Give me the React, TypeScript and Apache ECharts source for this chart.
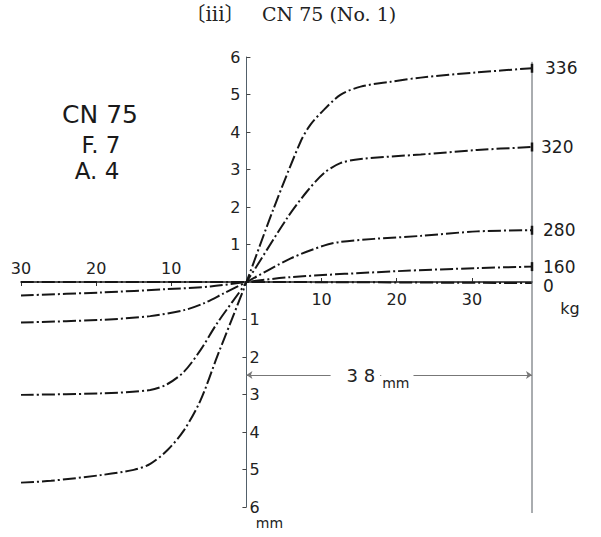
import React, { useEffect, useRef } from 'react';
import * as echarts from 'echarts';

// Load–deflection curves, CN 75 (No. 1). x: load in kg, y: deflection in mm.
const curveNames = ['336', '320', '280', '160', '0'];

const curve336: [number, number][] = [
  [-30, -5.35], [-26, -5.3], [-19.4, -5.15], [-15, -5.01], [-12.8, -4.85], [-10.5, -4.48],
  [-8.3, -3.95], [-6.1, -3.15], [-3.9, -1.99], [0, 0], [3.6, 1.95], [7.2, 3.74], [8.5, 4.19],
  [10.3, 4.59], [12.5, 4.99], [15.2, 5.21], [19.2, 5.34], [23.2, 5.45], [30.7, 5.59], [38, 5.7],
];
const curve320: [number, number][] = [
  [-30, -3.01], [-19.4, -2.97], [-12.8, -2.88], [-10.5, -2.72], [-8.3, -2.39], [-6.1, -1.81],
  [-3.9, -1.1], [0, 0], [5.4, 1.7], [8, 2.4], [10.3, 2.9], [12.5, 3.17], [15.2, 3.28],
  [23.2, 3.4], [30.7, 3.52], [38, 3.6],
];
const curve280: [number, number][] = [
  [-30, -1.08], [-19.4, -1.01], [-12.8, -0.91], [-8.3, -0.75], [-5.7, -0.57], [-3, -0.3],
  [0, 0], [5.9, 0.63], [10.3, 0.97], [12.5, 1.07], [17, 1.15], [23.2, 1.23], [30.7, 1.35], [38, 1.38],
];
const curve160: [number, number][] = [
  [-30, -0.36], [-19.4, -0.28], [-10.5, -0.19], [-4.8, -0.12], [0, 0], [5.9, 0.13],
  [20.2, 0.29], [30.7, 0.37], [38, 0.41],
];
const curve0: [number, number][] = [[-30, 0], [0, 0], [38, -0.03]];

const curves = [curve336, curve320, curve280, curve160, curve0];

const xTicksLeft = [-30, -20, -10];
const xTicksRight = [10, 20, 30];
const yTicksUp = [1, 2, 3, 4, 5, 6];
const yTicksDown = [-1, -2, -3, -4, -5, -6];

const xMin = -30;
const xMax = 38;
const yMin = -6;
const yMax = 6;

// end post of the measuring frame and the 38 mm span marked below the axis
const postTop = 5.87;
const postBottom = -6.16;
const spanLevel = -2.48;

// plot box
const plotLeft = 21;
const plotTop = 57;
const plotWidth = 511;
const plotHeight = 450;

const SANS = "'DejaVu Sans', sans-serif";
const SERIF = "'DejaVu Serif', 'Noto Sans CJK JP', serif";
const INK = '#161616';
const dashDot = [13, 3, 2, 3];

const labelDistance: Record<string, number> = { '336': 13, '320': 9, '280': 11, '160': 11, '0': 11 };
const labelOffsetY: Record<string, number> = { '336': 0, '320': 0, '280': 0, '160': 0, '0': 3 };

function curveSeries(name: string, pts: [number, number][]) {
  const withTick = name !== '0';
  return {
    type: 'line',
    name,
    xAxisIndex: 0,
    yAxisIndex: 0,
    data: pts.map((p, i) =>
      i === pts.length - 1 && withTick
        ? { value: p, symbol: 'rect', symbolSize: [2.5, 9] }
        : { value: p }
    ),
    symbol: 'none',
    showSymbol: true,
    smooth: 0.3,
    silent: true,
    z: 3,
    itemStyle: { color: INK },
    lineStyle: { color: INK, width: 2, type: dashDot },
    endLabel: {
      show: true,
      formatter: name,
      distance: labelDistance[name],
      offset: [0, labelOffsetY[name]],
      color: '#1c1c1c',
      fontSize: 17,
      fontFamily: SANS,
    },
  };
}

export default function App() {
  const ref = useRef<HTMLDivElement>(null);

  useEffect(() => {
    document.body.style.margin = '0';
    if (!ref.current) return;
    const chart = echarts.init(ref.current, null, { renderer: 'svg' });

    const tickLabel = { fontSize: 16, color: '#222', fontFamily: SANS };
    // where x = 0 and y = 0 fall inside the plot box
    const originX = plotLeft + ((0 - xMin) / (xMax - xMin)) * plotWidth;
    const originY = plotTop + ((yMax - 0) / (yMax - yMin)) * plotHeight;

    const noGrid = { containLabel: false, outerBoundsMode: 'none' };

    const option: any = {
      animation: false,
      backgroundColor: '#fff',
      grid: [
        // full plot carrying the curves
        { ...noGrid, left: plotLeft, top: plotTop, width: plotWidth, height: plotHeight },
        // upper-right quadrant: scale labels for positive load / deflection
        { ...noGrid, left: originX, top: plotTop, width: plotLeft + plotWidth - originX, height: originY - plotTop },
        // lower-left quadrant: scale labels for negative load / deflection
        { ...noGrid, left: plotLeft, top: originY, width: originX - plotLeft, height: plotTop + plotHeight - originY },
      ],
      xAxis: [
        {
          gridIndex: 0, type: 'value', min: xMin, max: xMax, interval: 10,
          axisLine: { show: true, onZero: true, lineStyle: { color: '#1a1a1a', width: 1.6 } },
          axisTick: { show: false }, axisLabel: { show: false }, splitLine: { show: false },
        },
        {
          gridIndex: 1, type: 'value', min: 0, max: xMax, interval: 10, position: 'bottom',
          axisLine: { show: false },
          axisTick: { show: true, inside: true, length: 4, customValues: xTicksRight, lineStyle: { color: '#333' } },
          axisLabel: {
            ...tickLabel, margin: 9, customValues: xTicksRight,
            formatter: (v: number) => (xTicksRight.includes(v) ? String(v) : ''),
          },
          splitLine: { show: false },
        },
        {
          gridIndex: 2, type: 'value', min: xMin, max: 0, interval: 10, position: 'top',
          axisLine: { show: false },
          axisTick: { show: true, inside: true, length: 4, customValues: xTicksLeft, lineStyle: { color: '#333' } },
          axisLabel: {
            ...tickLabel, margin: 6, customValues: xTicksLeft,
            formatter: (v: number) => (xTicksLeft.includes(v) ? String(Math.abs(v)) : ''),
          },
          splitLine: { show: false },
        },
      ],
      yAxis: [
        {
          gridIndex: 0, type: 'value', min: yMin, max: yMax, interval: 1,
          axisLine: { show: true, onZero: true, lineStyle: { color: '#52606a', width: 1 } },
          axisTick: { show: false }, axisLabel: { show: false }, splitLine: { show: false },
        },
        {
          gridIndex: 1, type: 'value', min: 0, max: yMax, interval: 1, position: 'left',
          axisLine: { show: false },
          axisTick: { show: true, inside: true, length: 4, customValues: yTicksUp, lineStyle: { color: '#444' } },
          axisLabel: {
            ...tickLabel, margin: 6, customValues: yTicksUp,
            formatter: (v: number) => (yTicksUp.includes(v) ? String(v) : ''),
          },
          splitLine: { show: false },
        },
        {
          gridIndex: 2, type: 'value', min: yMin, max: 0, interval: 1, position: 'right',
          axisLine: { show: false },
          axisTick: { show: true, inside: true, length: 4, customValues: yTicksDown, lineStyle: { color: '#444' } },
          axisLabel: {
            ...tickLabel, margin: 3, customValues: yTicksDown,
            formatter: (v: number) => (yTicksDown.includes(v) ? String(Math.abs(v)) : ''),
          },
          splitLine: { show: false },
        },
      ],
      series: [
        ...curves.map((pts, i) => curveSeries(curveNames[i], pts)),
        {
          type: 'line',
          name: 'post',
          xAxisIndex: 0,
          yAxisIndex: 0,
          clip: false,
          silent: true,
          symbol: 'none',
          data: [[xMax, postTop], [xMax, postBottom]],
          lineStyle: { color: '#555a60', width: 1, type: 'solid' },
          markLine: {
            silent: true,
            symbol: ['arrow', 'arrow'],
            symbolSize: 6,
            label: { show: false },
            lineStyle: { color: '#777', width: 1, type: 'solid' },
            data: [[{ coord: [0, spanLevel] }, { coord: [xMax, spanLevel] }]],
          },
        },
      ],
    };
    chart.setOption(option);

    const toPx = (pt: number[]) =>
      chart.convertToPixel({ xAxisIndex: 0, yAxisIndex: 0 } as any, pt) as number[];
    const mid = toPx([xMax / 2, spanLevel]);
    const endX = toPx([xMax, 0]);
    const bottomY = toPx([0, yMin]);

    chart.setOption({
      graphic: [
        {
          type: 'text', x: 215, y: 14,
          style: { text: '〔iii〕', fontSize: 20, fontFamily: SERIF, fill: '#222', align: 'center', verticalAlign: 'middle' },
        },
        {
          type: 'text', x: 262, y: 14,
          style: { text: 'CN 75 (No. 1)', fontSize: 19, fontFamily: SERIF, fill: '#222', align: 'left', verticalAlign: 'middle' },
        },
        {
          type: 'text', x: 100, y: 114,
          style: { text: 'CN 75', fontSize: 25, fontFamily: SANS, fontWeight: 500, fill: '#1a1a1a', align: 'center', verticalAlign: 'middle' },
        },
        {
          type: 'text', x: 101, y: 145,
          style: { text: 'F. 7', fontSize: 23, fontFamily: SANS, fill: '#1a1a1a', align: 'center', verticalAlign: 'middle' },
        },
        {
          type: 'text', x: 97, y: 171,
          style: { text: 'A. 4', fontSize: 23, fontFamily: SANS, fill: '#1a1a1a', align: 'center', verticalAlign: 'middle' },
        },
        {
          type: 'text', x: mid[0] - 9, y: mid[1], z: 10,
          style: {
            text: '3 8', fontSize: 18, fontFamily: SANS, fill: '#222', align: 'right', verticalAlign: 'middle',
            backgroundColor: '#fff', padding: [1, 5, 1, 16],
          },
        },
        {
          type: 'text', x: mid[0] - 8, y: mid[1] + 8, z: 10,
          style: {
            text: 'mm', fontSize: 14, fontFamily: SANS, fill: '#222', align: 'left', verticalAlign: 'middle',
            backgroundColor: '#fff', padding: [7, 4, 1, 1],
          },
        },
        {
          type: 'text', x: endX[0] + 38, y: endX[1] + 26,
          style: { text: 'kg', fontSize: 16, fontFamily: SANS, fill: '#222', align: 'center', verticalAlign: 'middle' },
        },
        {
          type: 'text', x: bottomY[0] + 23, y: bottomY[1] + 16,
          style: { text: 'mm', fontSize: 14, fontFamily: SANS, fill: '#222', align: 'center', verticalAlign: 'middle' },
        },
      ],
    });

    return () => chart.dispose();
  }, []);

  return <div ref={ref} style={{ width: 601, height: 537 }} />;
}
